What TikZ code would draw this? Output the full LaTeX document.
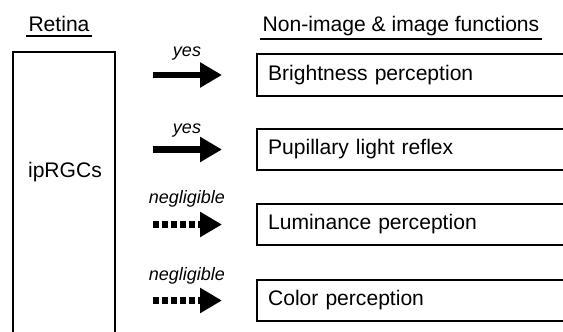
\documentclass[tikz,border=0pt]{standalone}
\usepackage{fontspec}
\setmainfont{Liberation Sans}
\usetikzlibrary{arrows.meta}

\begin{document}
\begin{tikzpicture} [line width=1.3pt,
    function node/.style={draw,anchor=west,align=left,text width=7.6cm,
      inner xsep=0.28cm,minimum height=1.04cm,font=\fontsize{15}{18}\selectfont},
    retina node/.style={draw,minimum width=2.55cm,minimum height=7.775cm},
    heading node/.style={anchor=base,inner xsep=1pt,font=\fontsize{15}{18}\selectfont},
    answer node/.style={anchor=base,font=\fontsize{12.8}{15}\selectfont\itshape},
    yes arrow/.style={-{Triangle[length=0.55cm,width=0.6cm]},line width=0.17cm,
      shorten <=0.925cm,shorten >=0.85cm},
    negligible arrow/.style={yes arrow,dash pattern=on 0.15cm off 0.075cm}]

  \useasboundingbox (0,0) rectangle (14.075,8.275);
  \clip (0,0) rectangle (14.075,8.275);

  % headings
  \node [heading node] (retina_lbl) at (1.475,7.475) {Retina};
  \node [heading node] (functions_lbl) at (10.025,7.475) {Non-image \& image functions};
  \draw ([yshift=-0.11cm]retina_lbl.base west) -- ([yshift=-0.11cm]retina_lbl.base east);
  \draw ([yshift=-0.18cm]functions_lbl.base west) -- ([yshift=-0.18cm]functions_lbl.base east);

  % the cells and the functions
  \node [retina node] (iprgc) at (1.6,3.0875) {};
  \node [heading node] (iprgc_lbl) at (1.625,3.85) {ipRGCs};

  \node [function node] (brightness) at (6.4,6.4) {Brightness perception};
  \node [function node] (pupillary) at (6.4,4.5375) {Pupillary light reflex};
  \node [function node] (luminance) at (6.4,2.6625) {Luminance perception};
  \node [function node] (color) at (6.4,0.7625) {Color perception};

  % connectors between the cells and the functions
  \draw[yes arrow] (iprgc.east |- brightness.west) -- (brightness.west);
  \draw[yes arrow] (iprgc.east |- pupillary.west) -- (pupillary.west);
  \draw[negligible arrow] (iprgc.east |- luminance.west) -- (luminance.west);
  \draw[negligible arrow] (iprgc.east |- color.west) -- (color.west);

  \node [answer node] (yes_1) at (4.675,6.85) {yes};
  \node [answer node] (yes_2) at (4.675,4.95) {yes};
  \node [answer node] (negligible_1) at (4.675,3.2) {negligible};
  \node [answer node] (negligible_2) at (4.675,1.275) {negligible};

\end{tikzpicture}
\end{document}
